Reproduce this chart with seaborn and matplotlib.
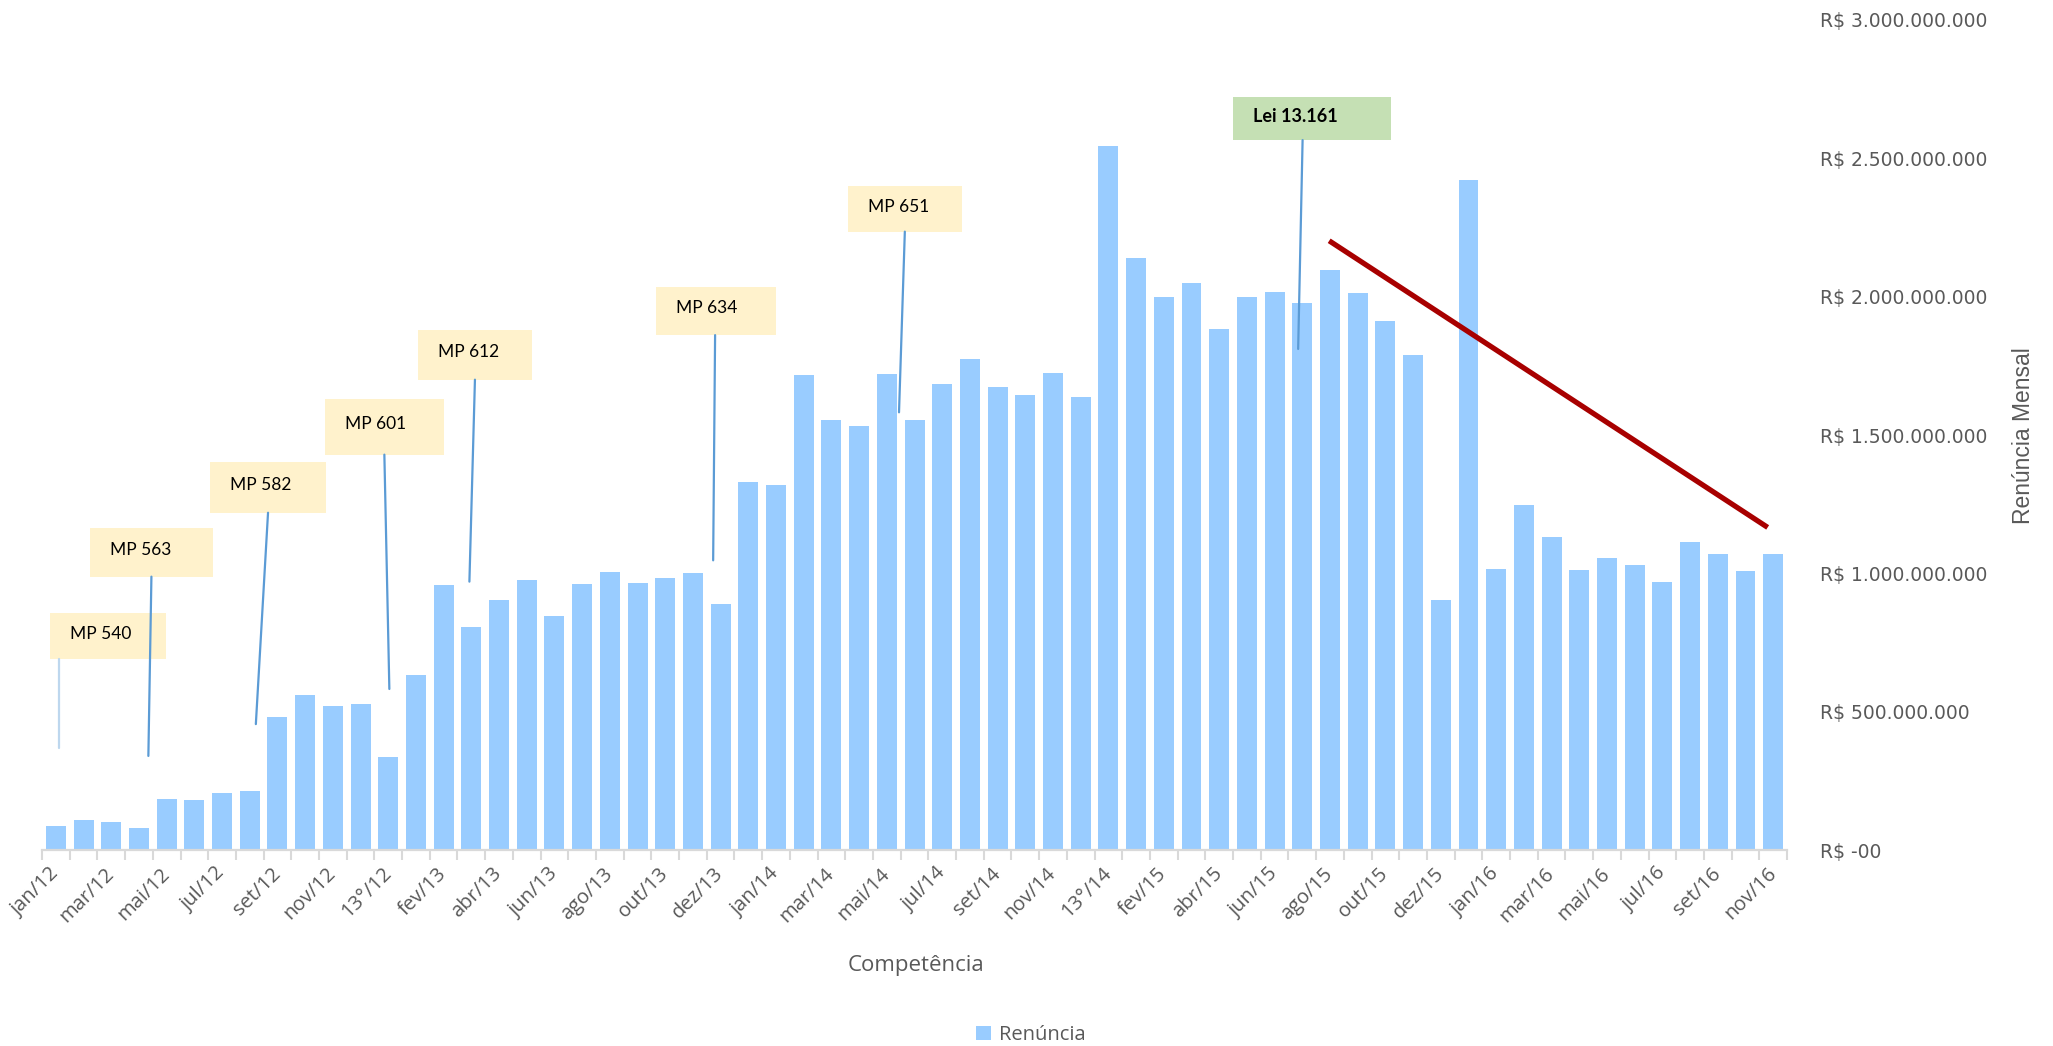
import numpy as np
import pandas as pd
import matplotlib
matplotlib.use("Agg")
import matplotlib.pyplot as plt
import matplotlib.patheffects as pe
from matplotlib.patches import Rectangle
from matplotlib.ticker import FuncFormatter
from matplotlib import font_manager
import seaborn as sns

# months, with the "13°" (décimo terceiro) entries after each December
categories = [
    "jan/12", "fev/12", "mar/12", "abr/12", "mai/12", "jun/12", "jul/12", "ago/12", "set/12", "out/12", "nov/12", "dez/12", "13°/12",
    "jan/13", "fev/13", "mar/13", "abr/13", "mai/13", "jun/13", "jul/13", "ago/13", "set/13", "out/13", "nov/13", "dez/13", "13°/13",
    "jan/14", "fev/14", "mar/14", "abr/14", "mai/14", "jun/14", "jul/14", "ago/14", "set/14", "out/14", "nov/14", "dez/14", "13°/14",
    "jan/15", "fev/15", "mar/15", "abr/15", "mai/15", "jun/15", "jul/15", "ago/15", "set/15", "out/15", "nov/15", "dez/15", "13°/15",
    "jan/16", "fev/16", "mar/16", "abr/16", "mai/16", "jun/16", "jul/16", "ago/16", "set/16", "out/16", "nov/16",
]

# renúncia mensal, in R$ milhões
renuncia_mi = [
    86, 108, 101, 80, 184, 181, 206, 213, 481, 560, 520, 528, 336,
    633, 959, 806, 904, 977, 846, 961, 1005, 965, 982, 1001, 889, 1329,
    1320, 1716, 1556, 1533, 1721, 1553, 1686, 1775, 1673, 1643, 1723, 1639, 2544,
    2141, 2000, 2048, 1882, 2000, 2016, 1978, 2097, 2012, 1911, 1788, 905, 2420,
    1017, 1246, 1131, 1013, 1057, 1030, 968, 1114, 1070, 1009, 1070,
]

# trend line drawn over 2015-2016 (category index, R$ milhões)
trend_idx = [45.97, 61.80]
trend_mi = [2202, 1166]

# callouts: label, box (x0, y0, w, h) and leader line (x_top, y_top, x_bottom, y_bottom), y in R$ milhões
callout_labels = ["MP 540", "MP 563", "MP 582", "MP 601", "MP 612", "MP 634", "MP 651", "Lei 13.161"]
callout_boxes = [
    (-0.21, 689, 4.18, 166), (1.23, 988, 4.43, 175), (5.57, 1219, 4.17, 182), (9.72, 1429, 4.28, 201),
    (13.06, 1700, 4.12, 179), (21.67, 1861, 4.34, 175), (28.61, 2235, 4.12, 165), (42.5, 2566, 5.7, 156),
]
callout_lines = [
    (0.13, 689, 0.13, 369), (3.45, 988, 3.34, 340), (7.66, 1219, 7.22, 455), (11.86, 1429, 12.04, 582),
    (15.13, 1700, 14.93, 970), (23.80, 1861, 23.73, 1047), (30.65, 2235, 30.44, 1582), (45.01, 2566, 44.85, 1811),
]

BAR = "#99CCFF"
GREY = "#595959"
AXIS = "#D9D9D9"

names = {f.name for f in font_manager.fontManager.ttflist}
narrow = "Liberation Sans Narrow" if "Liberation Sans Narrow" in names else "Liberation Sans"

sns.set_theme(style="white")
plt.rcParams["font.family"] = ["Open Sans", "DejaVu Sans"]

df = pd.DataFrame({"competencia": categories, "renuncia": np.array(renuncia_mi) * 1e6})

fig = plt.figure(figsize=(20.53, 10.46), dpi=100)
ax = fig.add_axes([0.02046, 0.18738, 0.8500, 0.7935])

sns.barplot(data=df, x="competencia", y="renuncia", color=BAR, saturation=1,
            width=0.72, linewidth=0, label="Renúncia", ax=ax, zorder=2)

ax.set_xlim(-0.5, len(categories) - 0.5)
ax.set_ylim(0, 3e9)

# y axis on the right, Excel-like currency format
ax.yaxis.tick_right()
ax.set_yticks(np.arange(0, 3.01e9, 5e8))
ax.yaxis.set_major_formatter(FuncFormatter(
    lambda v, p: "R$ -00" if v == 0 else "R$ " + f"{v:,.0f}".replace(",", ".")))
ax.tick_params(axis="y", length=0, pad=24, labelsize=13.5, labelcolor=GREY)
for t in ax.get_yticklabels():
    t.set_fontfamily("DejaVu Sans")
ax.set_ylabel("")

# x axis: label every other category, tick marks on the category edges
ax.set_xticks(range(0, len(categories), 2))
ax.set_xticklabels(categories[::2], rotation=45, ha="right", va="center", rotation_mode="anchor")
ax.set_xticks(np.arange(-0.5, len(categories), 1), minor=True)
ax.tick_params(axis="x", which="major", length=0, pad=15, labelsize=14.5, labelcolor=GREY)
ax.tick_params(axis="x", which="minor", length=7, width=1.5, color=AXIS, bottom=True)
ax.set_xlabel("Competência", fontsize=16, color=GREY)
ax.xaxis.set_label_coords(0.5008, -0.1386)
ax.xaxis.label.set_va("center")

for s in ["top", "left", "right"]:
    ax.spines[s].set_visible(False)
ax.spines["bottom"].set_color(AXIS)
ax.spines["bottom"].set_linewidth(1.6)

fig.text(2023 / 2053, 1 - 436 / 1046, "Renúncia Mensal", rotation=90, ha="center", va="center",
         fontsize=16.5, color=GREY, family=[narrow, "DejaVu Sans"])

# callout boxes and leader lines
for i, (lab, box, ln) in enumerate(zip(callout_labels, callout_boxes, callout_lines)):
    x0, y0, w, h = box
    is_lei = lab.startswith("Lei")
    ax.add_patch(Rectangle((x0, y0 * 1e6), w, h * 1e6, facecolor="#C5E0B4" if is_lei else "#FFF2CC",
                           edgecolor="none", zorder=3))
    ax.text(x0 + 0.72, (y0 + h * 0.55) * 1e6, lab, ha="left", va="center", fontsize=13 if is_lei else 12.5,
            fontweight="bold" if is_lei else "normal", color="black", family=["Lato", "DejaVu Sans"], zorder=5)
    line_color = "#BDD7EE" if i == 0 else "#5B9BD5"
    ax.plot([ln[0], ln[2]], [ln[1] * 1e6, ln[3] * 1e6], color=line_color, lw=1.6, zorder=4)

# trend line with a soft shadow
ax.plot(trend_idx, np.array(trend_mi) * 1e6, color="#A80000", lw=3.8, solid_capstyle="butt", zorder=6,
        path_effects=[pe.SimplePatchShadow(offset=(3, -4), shadow_rgbFace="black", alpha=0.25),
                      pe.SimplePatchShadow(offset=(2, -2), shadow_rgbFace="black", alpha=0.2), pe.Normal()])

leg = ax.legend(loc="center", bbox_to_anchor=(0.502, 1 - 1035 / 1046), bbox_transform=fig.transFigure,
                frameon=False, fontsize=14.5, handlelength=0.75, handleheight=0.75, handletextpad=0.4)
for t in leg.get_texts():
    t.set_color(GREY)

fig.savefig("out.png", dpi=100)
